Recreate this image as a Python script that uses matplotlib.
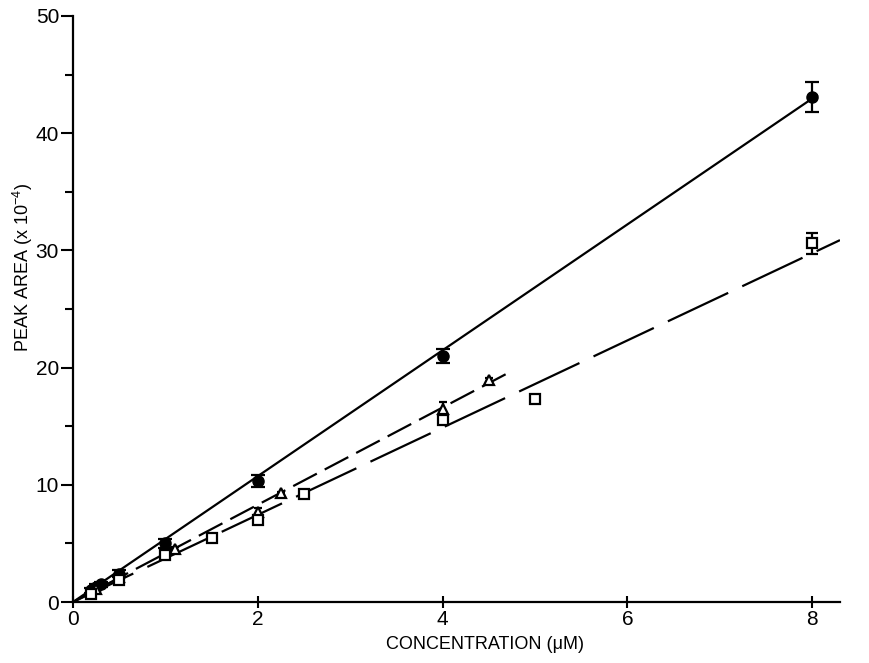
import numpy as np
import matplotlib.pyplot as plt
from matplotlib.ticker import MultipleLocator

plt.rcParams['font.family'] = ['Liberation Sans', 'DejaVu Sans']
plt.rcParams['mathtext.default'] = 'regular'

# --- data ---
circ_x = [0.2, 0.25, 0.3, 0.5, 1.0, 2.0, 4.0, 8.0]
circ_y = [1.0, 1.3, 1.5, 2.4, 5.0, 10.3, 21.0, 43.1]
circ_err = [0.2, 0.2, 0.2, 0.3, 0.4, 0.5, 0.6, 1.3]

tri_x = [0.25, 0.5, 1.1, 2.0, 2.25, 4.0, 4.5]
tri_y = [1.1, 2.1, 4.5, 7.7, 9.3, 16.5, 18.9]
tri_err = [0.1, 0.2, 0.2, 0.3, 0.1, 0.6, 0.2]

sq_x = [0.2, 0.5, 1.0, 1.5, 2.0, 2.5, 4.0, 5.0, 8.0]
sq_y = [0.7, 1.9, 4.0, 5.5, 7.0, 9.2, 15.5, 17.3, 30.6]
sq_err = [0.1, 0.2, 0.3, 0.1, 0.2, 0.1, 0.3, 0.2, 0.9]

# fitted lines: slope, end of line
fit_solid = (5.37, 8.05)
fit_short = (4.15, 4.75)
fit_long = (3.72, 8.3)

fig = plt.figure(figsize=(8.7, 6.63), dpi=100)
ax = fig.add_axes([0.0839, 0.092, 0.8816, 0.8839])

for slope, xend, ls in [(fit_solid[0], fit_solid[1], '-'),
                        (fit_short[0], fit_short[1], (0, (12, 4))),
                        (fit_long[0], fit_long[1], (0, (30, 7)))]:
    xx = np.array([0, xend])
    ax.plot(xx, slope * xx, color='black', lw=1.6, ls=ls, zorder=2)

ax.errorbar(circ_x, circ_y, yerr=circ_err, fmt='o', ms=8, color='black',
            mfc='black', ecolor='black', elinewidth=1.6, capsize=5, capthick=1.6, zorder=3)
ax.errorbar(tri_x, tri_y, yerr=tri_err, fmt='^', ms=7, color='black',
            mfc='white', mew=1.6, ecolor='black', elinewidth=1.6, capsize=3, capthick=1.6, zorder=3)
ax.errorbar(sq_x, sq_y, yerr=sq_err, fmt='s', ms=7, color='black',
            mfc='white', mew=1.6, ecolor='black', elinewidth=1.6, capsize=4, capthick=1.6, zorder=3)

ax.set_xlim(0, 8.3)
ax.set_ylim(0, 50)
ax.spines['top'].set_visible(False)
ax.spines['right'].set_visible(False)
for s in ['left', 'bottom']:
    ax.spines[s].set_linewidth(1.6)

ax.set_xticks([0, 2, 4, 6, 8])
ax.set_yticks([0, 10, 20, 30, 40, 50])
ax.yaxis.set_minor_locator(MultipleLocator(5))
ax.tick_params(axis='y', which='major', direction='out', length=9, width=1.5, labelsize=15, pad=1)
ax.tick_params(axis='y', which='minor', direction='out', length=6, width=1.5)
ax.tick_params(axis='x', which='major', direction='inout', length=8, width=1.5, labelsize=15, pad=2)

ax.set_xlabel('CONCENTRATION (μM)', fontsize=13)
ax.set_ylabel('PEAK AREA (x 10$^{-4}$)', fontsize=13)
ax.xaxis.set_label_coords(0.537, -0.058)
ax.yaxis.set_label_coords(-0.05, 0.57)

fig.savefig('out.png', dpi=100)
